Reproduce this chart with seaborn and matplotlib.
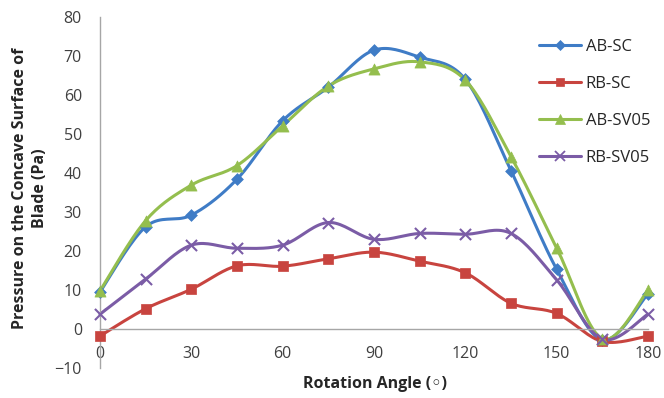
import numpy as np
import pandas as pd
import matplotlib
matplotlib.use("Agg")
import matplotlib.pyplot as plt
from matplotlib.lines import Line2D
import seaborn as sns

angles = [0, 15, 30, 45, 60, 75, 90, 105, 120, 135, 150, 165, 180]
ab_sc = [9.5, 26.2, 29.2, 38.4, 53.4, 62.0, 71.5, 69.7, 64.0, 40.6, 15.3, -2.8, 9.0]
rb_sc = [-1.8, 5.2, 10.2, 16.2, 16.1, 18.0, 19.7, 17.4, 14.4, 6.6, 4.0, -3.2, -1.8]
ab_sv05 = [9.8, 27.8, 36.9, 41.9, 52.1, 62.3, 66.7, 68.5, 63.8, 44.2, 20.8, -2.5, 9.9]
rb_sv05 = [3.8, 12.8, 21.5, 20.7, 21.5, 27.3, 23.0, 24.5, 24.3, 24.5, 12.6, -2.6, 3.8]

series = ["AB-SC", "RB-SC", "AB-SV05", "RB-SV05"]
values = [ab_sc, rb_sc, ab_sv05, rb_sv05]
colors = ["#3F7CC6", "#C8443F", "#94BE4E", "#7B5CA6"]
markers = ["D", "s", "^", "x"]
msizes = [6, 7.5, 8, 8]


def excel_smooth(x, y, n=20):
    # bezier smoothing like excel's "smoothed line"
    pts = np.column_stack([x, y]).astype(float)
    p = np.vstack([pts[0], pts, pts[-1]])
    t = np.linspace(0, 1, n)[:, None]
    out = []
    for i in range(1, len(p) - 2):
        p0, p1, p2, p3 = p[i - 1], p[i], p[i + 1], p[i + 2]
        c1 = p1 + (p2 - p0) / 6
        c2 = p2 - (p3 - p1) / 6
        seg = (1 - t) ** 3 * p1 + 3 * (1 - t) ** 2 * t * c1 + 3 * (1 - t) * t ** 2 * c2 + t ** 3 * p2
        out.append(seg if i == 1 else seg[1:])
    return np.vstack(out)


sns.set_theme(style="white")
plt.rcParams['font.family'] = ['Open Sans', 'DejaVu Sans']

fig = plt.figure(figsize=(6.64, 3.98), dpi=100)
ax = fig.add_axes([100 / 664, 1 - 368 / 398, 548 / 664, 351 / 398])

handles = []
for name, vals, c, m, ms in zip(series, values, colors, markers, msizes):
    curve = excel_smooth(angles, vals)
    df = pd.DataFrame({"x": curve[:, 0], "y": curve[:, 1]})
    sns.lineplot(data=df, x="x", y="y", ax=ax, color=c, lw=2.2, sort=False,
                 estimator=None, clip_on=False)
    pts = pd.DataFrame({"x": angles, "y": vals})
    if m == "x":
        sns.scatterplot(data=pts, x="x", y="y", ax=ax, color=c, marker=m, s=ms ** 2,
                        linewidth=1.5, clip_on=False, zorder=3)
    else:
        sns.scatterplot(data=pts, x="x", y="y", ax=ax, color=c, marker=m, s=ms ** 2,
                        edgecolor=c, linewidth=0.5, clip_on=False, zorder=3)
    handles.append(Line2D([], [], color=c, lw=2.2, marker=m, markersize=ms * 0.85,
                          markeredgewidth=1.3 if m == "x" else 0.5))

ax.set_xlim(0, 180)
ax.set_ylim(-10, 80)
ax.set_xticks(range(0, 181, 30))
ax.set_yticks(range(-10, 81, 10))

for s in ["top", "right"]:
    ax.spines[s].set_visible(False)
ax.spines["bottom"].set_position(("data", 0))
for s in ["bottom", "left"]:
    ax.spines[s].set_color("#A6A6A6")
    ax.spines[s].set_linewidth(1.0)

ax.tick_params(axis="both", length=0, labelsize=11.5, colors="#404040")
ax.tick_params(axis="x", pad=12)
ax.tick_params(axis="y", pad=13)

ax.set_xlabel("")
ax.set_ylabel("")
fig.text(375 / 664, 1 - 384 / 398, "Rotation Angle (\u25e6)", ha="center", va="center",
         fontsize=11.5, fontweight="bold", color="#262626")
fig.text(30 / 664, 1 - 188 / 398, "Pressure on the Concave Surface of\nBlade (Pa)",
         ha="center", va="center", rotation=90, fontsize=11.5, fontweight="bold",
         color="#262626", linespacing=1.35)

fig.legend(handles=handles, labels=series, loc="upper left",
           bbox_to_anchor=(539 / 664, 1 - 39 / 398), frameon=False, fontsize=12,
           handlelength=2.5, handletextpad=0.3, labelspacing=1.25, borderpad=0,
           borderaxespad=0, labelcolor="#262626")

fig.savefig("out.png", dpi=100)
